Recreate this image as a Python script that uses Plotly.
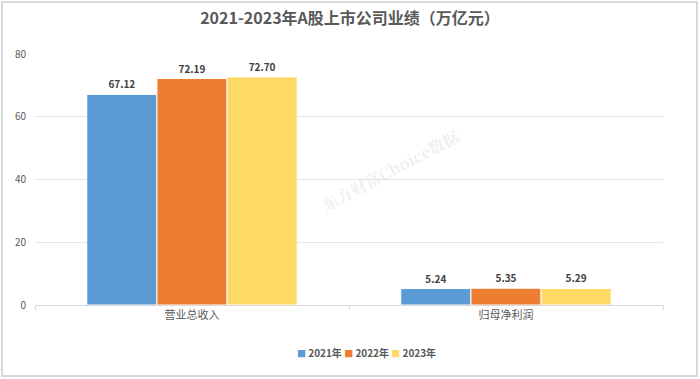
import plotly.graph_objects as go

categories = ["营业总收入", "归母净利润"]
years = ["2021年", "2022年", "2023年"]
v2021 = [67.12, 5.24]
v2022 = [72.19, 5.35]
v2023 = [72.70, 5.29]
colors = ["#5B9BD5", "#ED7D31", "#FFD966"]
title = "2021-2023年A股上市公司业绩（万亿元）"

W, H = 700, 379
L, R, T, B = 35, 37, 54, 74
pw, ph = W - L - R, H - T - B

font = "Noto Sans CJK SC, sans-serif"

fig = go.Figure()
for name, vals, c in zip(years, [v2021, v2022, v2023], colors):
    fig.add_trace(go.Bar(
        x=categories, y=vals, name=name,
        marker=dict(color=c, line=dict(color="white", width=1)),
        text=["<b>%.2f</b>" % v for v in vals], textposition="outside",
        textfont=dict(size=10, color="#404040", family=font),
        cliponaxis=False, showlegend=False,
    ))

fig.update_layout(
    width=W, height=H,
    margin=dict(l=L, r=R, t=T, b=B, autoexpand=False),
    paper_bgcolor="white", plot_bgcolor="white",
    barmode="group", bargap=0.33, bargroupgap=0.0,
    font=dict(family=font, size=11, color="#595959"),
    title=dict(text="<b>" + title + "</b>", x=0.5, xanchor="center", y=0.952, yanchor="middle",
               font=dict(size=16, color="#595959", family=font)),
    xaxis=dict(showline=True, linecolor="#D9D9D9", linewidth=1, ticks="outside",
               tickson="boundaries", ticklen=4, tickcolor="#D9D9D9",
               tickfont=dict(size=11, color="#595959")),
    yaxis=dict(range=[0, 80], dtick=20, showgrid=True, gridcolor="#E6E6E6", gridwidth=1,
               zeroline=False, showline=False, ticks="", ticklabelstandoff=8,
               tickfont=dict(size=10, color="#595959")),
)

# custom legend
parts = []
for name, c in zip(years, colors):
    parts.append('<span style="color:%s;font-size:9px">■</span> <b>%s</b>' % (c, name))
fig.add_annotation(text=" ".join(parts), xref="paper", yref="paper",
                   x=(366 - L) / pw, y=-(352 - 305) / ph, xanchor="center", yanchor="middle",
                   showarrow=False, font=dict(size=10, color="#595959", family=font))

# outer border
fig.add_shape(type="rect", xref="paper", yref="paper",
              x0=(2 - L) / pw, x1=(697 - L) / pw,
              y0=(H - 376 - B) / ph, y1=(H - 2 - B) / ph,
              line=dict(color="#D9D9D9", width=2), fillcolor="rgba(0,0,0,0)", layer="below")

# watermark
fig.add_annotation(text="<b>东方财富Choice数据</b>", xref="paper", yref="paper",
                   x=(390 - L) / pw, y=(H - B - 170) / ph, showarrow=False, textangle=-28,
                   font=dict(size=16, color="rgba(200,200,200,0.3)", family="Noto Serif CJK SC, serif"))

fig.write_html("out.html", config={"displayModeBar": False},
               post_script="document.body.style.margin='0';document.body.style.overflow='hidden';")
